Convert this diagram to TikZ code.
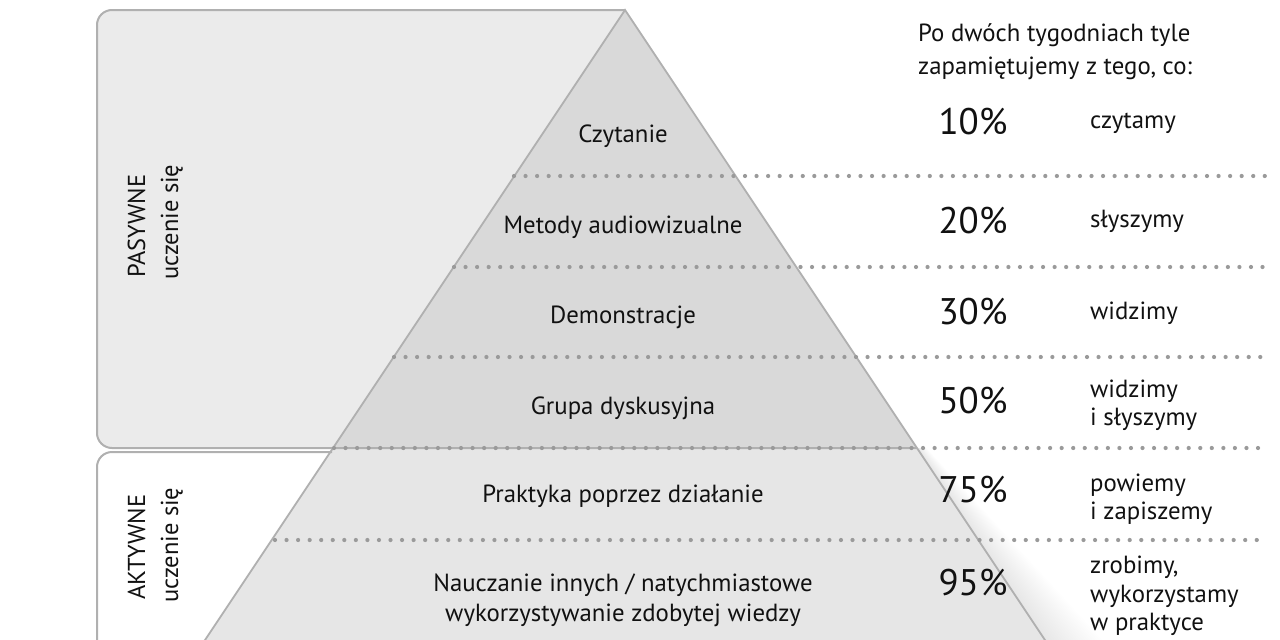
\documentclass[tikz,border=0pt]{standalone}
\usepackage{fontspec}
\setmainfont{PT Sans}
\usetikzlibrary{calc}
\definecolor{boxgray}{HTML}{EBEBEB}
\definecolor{pyrtop}{HTML}{D9D9D9}
\definecolor{pyrbot}{HTML}{E6E6E6}
\definecolor{linegray}{HTML}{B0B0B0}
\definecolor{dotgray}{HTML}{9A9A9A}
\definecolor{txt}{HTML}{111111}
\begin{document}
\begin{tikzpicture}[x=1pt,y=-1pt,
  lbl/.style={inner sep=0pt, anchor=base, text=txt, font=\fontsize{24.8}{30}\selectfont},
  pct/.style={inner sep=0pt, anchor=base, text=txt, font=\fontsize{37}{40}\selectfont},
  desc/.style={inner sep=0pt, anchor=base west, text=txt, font=\fontsize{24.8}{29}\selectfont},
  side/.style={inner sep=0pt, anchor=base west, rotate=90, text=txt, font=\fontsize{24.5}{30}\selectfont},
  dotline/.style={draw=dotgray, line width=4.2pt, line cap=round, dash pattern=on 0pt off 11.55pt},
  borderline/.style={draw=linegray, line width=2pt},
  pyredge/.style={draw=linegray, line width=1.8pt}
]
\useasboundingbox (0,0) rectangle (1280,640);
\clip (0,0) rectangle (1280,640);
\fill[white] (0,0) rectangle (1280,640);

% key points
\coordinate (apex) at (625,10);
\coordinate (ml) at (333,448);
\coordinate (mr) at (917,448);
\coordinate (bl) at (191.7,660);
\coordinate (br) at (1058.3,660);

% passive box
\fill[boxgray] (apex) -- (112,10) arc[start angle=270,end angle=180,radius=15]
  -- (97,433) arc[start angle=180,end angle=90,radius=15] -- (ml) -- cycle;

% soft shadow right of the lower pyramid
\foreach \i in {1,...,24}{
  \fill[black, opacity=0.005] (mr) -- (br) -- ($(br)+(2.6*\i,0)$) -- ($(mr)+(0.4*\i,0)$) -- cycle;
}

% pyramid
\fill[pyrtop] (apex) -- (ml) -- (mr) -- cycle;
\fill[pyrbot] (ml) -- (mr) -- (br) -- (bl) -- cycle;

% box borders
\draw[borderline] (apex) -- (112,10) arc[start angle=270,end angle=180,radius=15]
  -- (97,433) arc[start angle=180,end angle=90,radius=15] -- (mr);
\draw[borderline] (332,452) -- (112,452) arc[start angle=270,end angle=180,radius=15] -- (97,660);

% pyramid edges
\draw[pyredge] (bl) -- (apex) -- (br);

% dotted separators
\coordinate (d1a) at (514,176);  \coordinate (d1b) at (1267,176);
\coordinate (d2a) at (454,267);  \coordinate (d2b) at (1267,267);
\coordinate (d3a) at (394,357);  \coordinate (d3b) at (1267,357);
\coordinate (d4a) at (334,448);  \coordinate (d4b) at (1267,448);
\coordinate (d5a) at (275,540);  \coordinate (d5b) at (1267,540);
\foreach \k in {1,...,5}{ \draw[dotline] (d\k a) -- (d\k b); }

% pyramid labels
\node[lbl] (l1) at (623,142.5) {Czytanie};
\node[lbl] (l2) at (623,233) {Metody audiowizualne};
\node[lbl] (l3) at (623,323) {Demonstracje};
\node[lbl] (l4) at (623,414) {Grupa dyskusyjna};
\node[lbl] (l5) at (623,502) {Praktyka poprzez działanie};
\node[lbl] (l6a) at (623,591) {Nauczanie innych / natychmiastowe};
\node[lbl] (l6b) at (623,621) {wykorzystywanie zdobytej wiedzy};

% side labels
\node[side] (pas1) at (145,278) {PASYWNE};
\node[side] (pas2) at (178,280) {uczenie się};
\node[side] (akt1) at (145,600) {AKTYWNE};
\node[side] (akt2) at (178,603) {uczenie się};

% header
\node[desc] (h1) at (918,41) {Po dwóch tygodniach tyle};
\node[desc] (h2) at (918,74) {zapamiętujemy z tego, co:};

% percentages
\node[pct] (p1) at (973,134) {10\%};
\node[pct] (p2) at (973,233) {20\%};
\node[pct] (p3) at (973,324) {30\%};
\node[pct] (p4) at (973,413) {50\%};
\node[pct] (p5) at (973,502) {75\%};
\node[pct] (p6) at (973,595) {95\%};

% descriptions
\node[desc] (t1) at (1090,128) {czytamy};
\node[desc] (t2) at (1090,227) {słyszymy};
\node[desc] (t3) at (1090,319) {widzimy};
\node[desc] (t4a) at (1090,397) {widzimy};
\node[desc] (t4b) at (1090,425) {i słyszymy};
\node[desc] (t5a) at (1090,491) {powiemy};
\node[desc] (t5b) at (1090,519) {i zapiszemy};
\node[desc] (t6a) at (1090,573) {zrobimy,};
\node[desc] (t6b) at (1090,602) {wykorzystamy};
\node[desc] (t6c) at (1090,630) {w praktyce};
\end{tikzpicture}
\end{document}
